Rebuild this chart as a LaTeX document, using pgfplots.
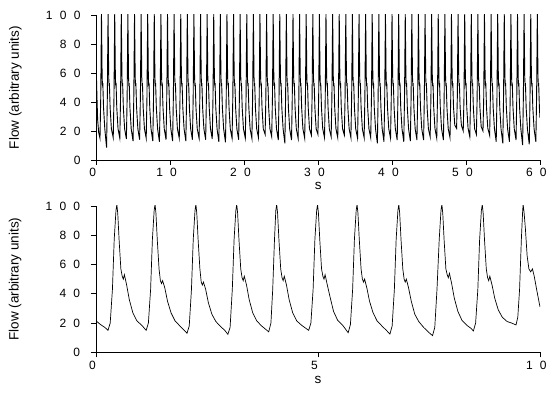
\documentclass[border=0pt]{standalone}
\usepackage{pgfplots}
\pgfplotsset{compat=1.18}
\usepackage{fontspec}
\setmainfont{Liberation Sans}
\newcommand{\tg}{\kern7.3pt}
\begin{document}
\begin{tikzpicture}
\useasboundingbox (0pt,0pt) rectangle (552pt,394pt);
\pgfplotsset{
  flowax/.style={
    scale only axis,
    axis lines*=left,
    axis line style={-, line width=0.6pt, black},
    tick align=outside,
    major tick length=5pt,
    tick style={line width=0.6pt, black},
    ymin=0, ymax=100,
    ytick={0,20,40,60,80,100},
    yticklabels={{0\tg},{2\tg0\tg},{4\tg0\tg},{6\tg0\tg},{8\tg0\tg},{1\tg0\tg0\tg}},
    /pgf/number format/assume math mode=true,
    ticklabel style={font=\fontsize{12}{14}\selectfont},
    label style={font=\fontsize{13.5}{16}\selectfont},
    ylabel={Flow (arbitrary units)},
    xlabel={s},
    clip=true,
  }
}
\begin{axis}[flowax, at={(96.3pt,234pt)}, anchor=south west, width=443.7pt, height=145pt,
  xmin=0, xmax=60, xtick={0,10,20,30,40,50,60},
  xticklabels={{0\tg},{1\tg0\tg},{2\tg0\tg},{3\tg0\tg},{4\tg0\tg},{5\tg0\tg},{6\tg0\tg}},
  ylabel style={at={(axis description cs:-0.1826,0.5)}, anchor=center},
  xlabel style={at={(axis description cs:0.5,-0.179)}, anchor=center}]
\addplot[black, line width=0.9pt, mark=none] coordinates {
(0,62) (0.08,45) (0.18,28) (0.32,19)
(0.50,15) (0.60,43) (0.70,101) (0.79,57) (0.84,51) (0.88,53) (0.98,36) (1.15,21.5)
(1.39,8.5) (1.49,43) (1.59,101) (1.68,57) (1.73,51) (1.77,53) (1.87,36) (2.04,21.5)
(2.29,15.4) (2.39,43) (2.49,101) (2.58,57) (2.63,51) (2.67,53) (2.77,36) (2.94,21.5)
(3.18,15) (3.28,43) (3.38,101) (3.47,57) (3.52,51) (3.56,53) (3.66,36) (3.83,21.5)
(4.07,14.5) (4.17,43) (4.27,101) (4.36,57) (4.41,51) (4.45,53) (4.55,36) (4.72,21.5)
(4.97,13) (5.07,43) (5.17,101) (5.26,57) (5.31,51) (5.35,53) (5.45,36) (5.62,21.5)
(5.86,14) (5.96,43) (6.06,101) (6.15,57) (6.20,51) (6.24,53) (6.34,36) (6.51,21.5)
(6.75,15) (6.85,43) (6.95,101) (7.04,57) (7.09,51) (7.13,53) (7.23,36) (7.40,21.5)
(7.64,13) (7.74,43) (7.84,101) (7.93,57) (7.98,51) (8.02,53) (8.12,36) (8.29,21.5)
(8.54,12.6) (8.64,43) (8.74,101) (8.83,57) (8.88,51) (8.92,53) (9.02,36) (9.19,21.5)
(9.43,14) (9.53,43) (9.63,101) (9.72,57) (9.77,51) (9.81,53) (9.91,36) (10.08,21.5)
(10.32,13) (10.42,43) (10.52,101) (10.61,57) (10.66,51) (10.70,53) (10.80,36) (10.97,21.5)
(11.22,15) (11.32,43) (11.42,101) (11.51,57) (11.56,51) (11.60,53) (11.70,36) (11.87,21.5)
(12.11,13) (12.21,43) (12.31,101) (12.40,57) (12.45,51) (12.49,53) (12.59,36) (12.76,21.5)
(13.00,14) (13.10,43) (13.20,101) (13.29,57) (13.34,51) (13.38,53) (13.48,36) (13.65,21.5)
(13.90,15) (14.00,43) (14.10,101) (14.19,57) (14.24,51) (14.28,53) (14.38,36) (14.55,21.5)
(14.79,14) (14.89,43) (14.99,101) (15.08,57) (15.13,51) (15.17,53) (15.27,36) (15.44,21.5)
(15.68,14.5) (15.78,43) (15.88,101) (15.97,57) (16.02,51) (16.06,53) (16.16,36) (16.33,21.5)
(16.57,12.6) (16.67,43) (16.77,101) (16.86,57) (16.91,51) (16.95,53) (17.05,36) (17.22,21.5)
(17.47,12.2) (17.57,43) (17.67,101) (17.76,57) (17.81,51) (17.85,53) (17.95,36) (18.12,21.5)
(18.36,15) (18.46,43) (18.56,101) (18.65,57) (18.70,51) (18.74,53) (18.84,36) (19.01,21.5)
(19.25,14) (19.35,43) (19.45,101) (19.54,57) (19.59,51) (19.63,53) (19.73,36) (19.90,21.5)
(20.15,15) (20.25,43) (20.35,101) (20.44,57) (20.49,51) (20.53,53) (20.63,36) (20.80,21.5)
(21.04,15) (21.14,43) (21.24,101) (21.33,57) (21.38,51) (21.42,53) (21.52,36) (21.69,21.5)
(21.93,15.4) (22.03,43) (22.13,101) (22.22,57) (22.27,51) (22.31,53) (22.41,36) (22.58,21.5)
(22.83,17.7) (22.93,43) (23.03,101) (23.12,57) (23.17,51) (23.21,53) (23.31,36) (23.48,21.5)
(23.72,16.1) (23.82,43) (23.92,101) (24.01,57) (24.06,51) (24.10,53) (24.20,36) (24.37,21.5)
(24.61,13.8) (24.71,43) (24.81,101) (24.90,57) (24.95,51) (24.99,53) (25.09,36) (25.26,21.5)
(25.50,11.5) (25.60,43) (25.70,101) (25.79,57) (25.84,51) (25.88,53) (25.98,36) (26.15,21.5)
(26.40,13.8) (26.50,43) (26.60,101) (26.69,57) (26.74,51) (26.78,53) (26.88,36) (27.05,21.5)
(27.29,15) (27.39,43) (27.49,101) (27.58,57) (27.63,51) (27.67,53) (27.77,36) (27.94,21.5)
(28.18,15) (28.28,43) (28.38,101) (28.47,57) (28.52,51) (28.56,53) (28.66,36) (28.83,21.5)
(29.08,17.2) (29.18,43) (29.28,101) (29.37,57) (29.42,51) (29.46,53) (29.56,36) (29.73,21.5)
(29.97,17.7) (30.07,43) (30.17,101) (30.26,57) (30.31,51) (30.35,53) (30.45,36) (30.62,21.5)
(30.86,15.4) (30.96,43) (31.06,101) (31.15,57) (31.20,51) (31.24,53) (31.34,36) (31.51,21.5)
(31.76,16.1) (31.86,43) (31.96,101) (32.05,57) (32.10,51) (32.14,53) (32.24,36) (32.41,21.5)
(32.65,15.4) (32.75,43) (32.85,101) (32.94,57) (32.99,51) (33.03,53) (33.13,36) (33.30,21.5)
(33.54,17.2) (33.64,43) (33.74,101) (33.83,57) (33.88,51) (33.92,53) (34.02,36) (34.19,21.5)
(34.43,15.4) (34.53,43) (34.63,101) (34.72,57) (34.77,51) (34.81,53) (34.91,36) (35.08,21.5)
(35.33,15) (35.43,43) (35.53,101) (35.62,57) (35.67,51) (35.71,53) (35.81,36) (35.98,21.5)
(36.22,15.4) (36.32,43) (36.42,101) (36.51,57) (36.56,51) (36.60,53) (36.70,36) (36.87,21.5)
(37.11,15.4) (37.21,43) (37.31,101) (37.40,57) (37.45,51) (37.49,53) (37.59,36) (37.76,21.5)
(38.01,11.5) (38.11,43) (38.21,101) (38.30,57) (38.35,51) (38.39,53) (38.49,36) (38.66,21.5)
(38.90,12.6) (39.00,43) (39.10,101) (39.19,57) (39.24,51) (39.28,53) (39.38,36) (39.55,21.5)
(39.79,15) (39.89,43) (39.99,101) (40.08,57) (40.13,51) (40.17,53) (40.27,36) (40.44,21.5)
(40.69,13.8) (40.79,43) (40.89,101) (40.98,57) (41.03,51) (41.07,53) (41.17,36) (41.34,21.5)
(41.58,12.6) (41.68,43) (41.78,101) (41.87,57) (41.92,51) (41.96,53) (42.06,36) (42.23,21.5)
(42.47,13.1) (42.57,43) (42.67,101) (42.76,57) (42.81,51) (42.85,53) (42.95,36) (43.12,21.5)
(43.36,13.8) (43.46,43) (43.56,101) (43.65,57) (43.70,51) (43.74,53) (43.84,36) (44.01,21.5)
(44.26,13.8) (44.36,43) (44.46,101) (44.55,57) (44.60,51) (44.64,53) (44.74,36) (44.91,21.5)
(45.15,16) (45.25,43) (45.35,101) (45.44,57) (45.49,51) (45.53,53) (45.63,36) (45.80,21.5)
(46.04,15) (46.14,43) (46.24,101) (46.33,57) (46.38,51) (46.42,53) (46.52,36) (46.69,21.5)
(46.94,13.8) (47.04,43) (47.14,101) (47.23,57) (47.28,51) (47.32,53) (47.42,36) (47.59,21.5)
(47.83,15.4) (47.93,43) (48.03,101) (48.12,57) (48.17,51) (48.21,53) (48.31,36) (48.48,24)
(48.72,21.8) (48.82,43) (48.92,101) (49.01,57) (49.06,51) (49.10,53) (49.20,36) (49.37,24)
(49.62,20) (49.72,43) (49.82,101) (49.91,57) (49.96,51) (50.00,53) (50.10,36) (50.27,22)
(50.51,16) (50.61,43) (50.71,101) (50.80,57) (50.85,51) (50.89,53) (50.99,36) (51.16,21.5)
(51.40,17.7) (51.50,43) (51.60,101) (51.69,57) (51.74,51) (51.78,53) (51.88,36) (52.05,23)
(52.29,20) (52.39,43) (52.49,101) (52.58,57) (52.63,51) (52.67,53) (52.77,36) (52.94,22)
(53.19,17) (53.29,43) (53.39,101) (53.48,57) (53.53,51) (53.57,53) (53.67,36) (53.84,21.5)
(54.08,12.6) (54.18,43) (54.28,101) (54.37,57) (54.42,51) (54.46,53) (54.56,36) (54.73,21.5)
(54.97,11.5) (55.07,43) (55.17,101) (55.26,57) (55.31,51) (55.35,53) (55.45,36) (55.62,21.5)
(55.87,12.6) (55.97,43) (56.07,101) (56.16,57) (56.21,51) (56.25,53) (56.35,36) (56.52,21.5)
(56.76,13.8) (56.86,43) (56.96,101) (57.05,57) (57.10,51) (57.14,53) (57.24,36) (57.41,21.5)
(57.65,10.3) (57.75,43) (57.85,101) (57.94,57) (57.99,51) (58.03,53) (58.13,36) (58.30,21.5)
(58.55,10.8) (58.65,43) (58.75,101) (58.84,57) (58.89,51) (58.93,53) (59.03,36) (59.20,21.5)
(59.44,12.6) (59.54,43) (59.64,101) (59.73,57) (59.78,51) (59.82,53) (59.92,36) (60.00,29)
};
\end{axis}
\begin{axis}[flowax, at={(96pt,41.7pt)}, anchor=south west, width=444pt, height=146.3pt,
  xmin=0, xmax=10, xtick={0,5,10},
  xticklabels={{0\tg},{5\tg},{1\tg0\tg}},
  ylabel style={at={(axis description cs:-0.1824,0.5)}, anchor=center},
  xlabel style={at={(axis description cs:0.5,-0.191)}, anchor=center}]
\addplot[black, line width=0.7pt, mark=none] coordinates {
(0,21.5) (0.1,19) (0.2,17)
(0.27,15) (0.32,20) (0.37,43) (0.41,77) (0.45,97) (0.47,101) (0.49,95) (0.52,77) (0.56,57) (0.59,52) (0.615,50) (0.64,53) (0.69,46) (0.75,36) (0.83,27) (0.92,21.5) (1.03,18.5)
(1.13,15) (1.18,20) (1.23,43) (1.27,77) (1.31,97) (1.33,101) (1.35,95) (1.38,77) (1.42,57) (1.45,49) (1.475,47) (1.50,49) (1.55,44) (1.61,35) (1.69,27) (1.78,21.5) (1.89,18)
(2.05,13) (2.10,18) (2.15,43) (2.19,77) (2.23,97) (2.25,101) (2.27,95) (2.30,77) (2.34,57) (2.37,48) (2.395,46) (2.42,48) (2.47,43) (2.53,34) (2.61,26) (2.70,21) (2.81,17.5) (2.90,15)
(2.97,12.3) (3.02,17) (3.07,43) (3.11,77) (3.15,97) (3.17,101) (3.19,95) (3.22,77) (3.26,57) (3.29,51) (3.315,49) (3.34,52) (3.39,46) (3.45,36) (3.53,27) (3.62,21.5) (3.73,18)
(3.89,14) (3.94,20) (3.98,43) (4.02,77) (4.05,97) (4.07,101) (4.09,95) (4.12,77) (4.16,57) (4.19,51) (4.215,49) (4.24,52) (4.29,46) (4.35,36) (4.43,27) (4.52,21.5) (4.63,18.5)
(4.79,15) (4.84,20) (4.89,43) (4.93,77) (4.97,97) (4.99,101) (5.01,95) (5.04,77) (5.08,57) (5.11,52) (5.135,50) (5.16,53) (5.21,46) (5.27,38) (5.35,28) (5.44,22) (5.55,18.7)
(5.68,13.4) (5.73,19) (5.78,43) (5.82,77) (5.86,97) (5.88,101) (5.90,95) (5.93,77) (5.97,57) (6.00,50) (6.025,48) (6.05,50) (6.10,44) (6.16,35) (6.24,27) (6.33,21.5) (6.44,18) (6.54,15)
(6.62,12.5) (6.67,18) (6.72,43) (6.76,77) (6.80,97) (6.82,101) (6.84,95) (6.87,77) (6.91,57) (6.94,50) (6.965,48) (6.99,50) (7.04,44) (7.10,35) (7.18,26) (7.27,21) (7.38,17) (7.48,14)
(7.58,11.4) (7.63,17) (7.68,43) (7.73,77) (7.77,97) (7.79,101) (7.81,95) (7.84,77) (7.88,57) (7.91,53) (7.935,51) (7.96,54) (8.01,47) (8.07,37) (8.15,28) (8.24,22) (8.35,18.5) (8.44,16.5)
(8.50,14.6) (8.55,20) (8.60,43) (8.64,77) (8.68,97) (8.70,101) (8.72,95) (8.75,77) (8.79,57) (8.82,51) (8.845,49) (8.87,52) (8.92,46) (8.98,37) (9.06,29) (9.15,24) (9.26,21) (9.36,20)
(9.46,18.7) (9.50,24) (9.54,43) (9.58,77) (9.61,97) (9.62,101) (9.64,96) (9.67,85) (9.71,66) (9.75,57) (9.79,55) (9.83,57) (9.87,52) (9.93,42) (10.0,31)
};
\end{axis}
\end{tikzpicture}
\end{document}
